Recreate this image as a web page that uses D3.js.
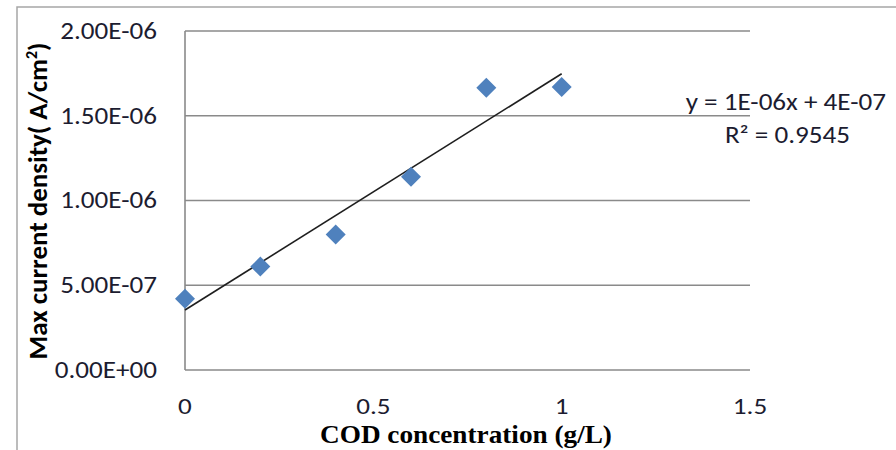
<!DOCTYPE html>
<html><head><meta charset="utf-8">
<script src="https://cdn.jsdelivr.net/npm/d3@7"></script>
<style>body{margin:0;background:#fff}svg{display:block}</style>
</head><body>
<svg id="c" width="896" height="450"></svg>
<script>
const codConcentration = [0, 0.2, 0.4, 0.6, 0.8, 1.0];
const maxCurrentDensity = [4.2e-7, 6.1e-7, 8.0e-7, 1.14e-6, 1.665e-6, 1.67e-6];
const yTicks = [0, 5e-7, 1e-6, 1.5e-6, 2e-6];
const yTickLabels = ["0.00E+00", "5.00E-07", "1.00E-06", "1.50E-06", "2.00E-06"];
const xTicks = [0, 0.5, 1, 1.5];
const xTickLabels = ["0", "0.5", "1", "1.5"];
const equationText = "y = 1E-06x + 4E-07";
const r2Text = "R² = 0.9545";

const svg = d3.select("#c");
const x = d3.scaleLinear().domain([0, 1.5]).range([185, 750]);
const y = d3.scaleLinear().domain([0, 2e-6]).range([370, 31]);
const sans = "Carlito, Lato, sans-serif";
const txtColor = "#1c1c30";

function label(px, py, str, anchor, opts) {
  const g = svg.append("g").attr("transform", `translate(${px},${py}) scale(${opts.sx || 1},1)`);
  return g.append("text").attr("text-anchor", anchor)
    .attr("font-family", opts.family || sans).attr("font-size", opts.size)
    .attr("font-weight", opts.weight || "normal").attr("fill", opts.fill || txtColor)
    .attr("dy", opts.dy || 0).text(str);
}

// outer chart frame (cropped)
svg.append("path").attr("d", "M17,450 L17,7 L896,7").attr("fill", "none")
  .attr("stroke", "#a6a6a6").attr("stroke-width", 1.5);

// gridlines
svg.append("g").selectAll("line").data(yTicks.slice(1)).join("line")
  .attr("x1", x(0)).attr("x2", x(1.5)).attr("y1", d => y(d)).attr("y2", d => y(d))
  .attr("stroke", "#8a8a8a").attr("stroke-width", 1.6);

// axes
svg.append("line").attr("x1", x(0)).attr("x2", x(1.5)).attr("y1", y(0)).attr("y2", y(0))
  .attr("stroke", "#8a8a8a").attr("stroke-width", 1.6);
svg.append("line").attr("x1", x(0)).attr("x2", x(0)).attr("y1", y(0)).attr("y2", y(2e-6))
  .attr("stroke", "#8a8a8a").attr("stroke-width", 1.6);

// y tick labels
yTicks.forEach((d, i) => label(157, y(d), yTickLabels[i], "end", { size: 24, sx: 1.13, dy: "0.33em" }));
// x tick labels
xTicks.forEach((d, i) => label(x(d), 414, xTickLabels[i], "middle", { size: 23, sx: 1.18 }));

// axis titles
svg.append("text").attr("transform", "translate(47,201) rotate(-90)")
  .attr("text-anchor", "middle").attr("font-family", sans).attr("font-weight", "bold")
  .attr("font-size", 27).attr("fill", "#000")
  .html("Max current density( A/cm<tspan dy='-10' font-size='16'>2</tspan><tspan dy='10'>)</tspan>");
label(466, 443, "COD concentration (g/L)", "middle",
  { size: 25, sx: 1.09, weight: "bold", family: "'Liberation Serif', serif", fill: "#000" });

// trendline (least squares from data)
const mx = d3.mean(codConcentration), my = d3.mean(maxCurrentDensity);
let sxy = 0, sxx = 0;
codConcentration.forEach((xv, i) => { sxy += (xv - mx) * (maxCurrentDensity[i] - my); sxx += (xv - mx) ** 2; });
const slope = sxy / sxx, intercept = my - slope * mx;
const xr = d3.extent(codConcentration);
svg.append("line").attr("x1", x(xr[0])).attr("y1", y(intercept + slope * xr[0]))
  .attr("x2", x(xr[1])).attr("y2", y(intercept + slope * xr[1]))
  .attr("stroke", "#1e1e1e").attr("stroke-width", 1.6);

// markers (diamonds)
svg.append("g").selectAll("path").data(codConcentration).join("path")
  .attr("d", d3.symbol().type(d3.symbolSquare).size(200))
  .attr("transform", (d, i) => `translate(${x(d)},${y(maxCurrentDensity[i])}) rotate(45)`)
  .attr("fill", "#4f81bd");

// trendline equation
label(886, 110, equationText, "end", { size: 24, sx: 1.13 });
label(850, 143, r2Text, "end", { size: 24, sx: 1.13 });
</script>
</body></html>
